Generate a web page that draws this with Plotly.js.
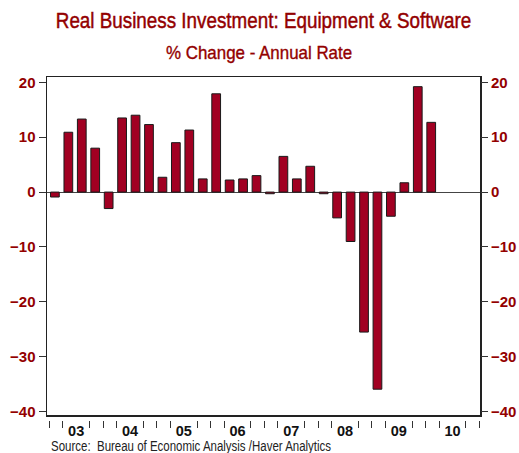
<!DOCTYPE html>
<html><head><meta charset="utf-8">
<script src="https://cdn.plot.ly/plotly-3.0.1.min.js"></script>
<style>
html,body{margin:0;padding:0;background:#fff}
#chart{width:519px;height:453px}
#chart .gtitle{transform-box:fill-box;transform-origin:center;transform:scaleX(0.856);stroke:#930000;stroke-width:0.45px}
#chart [data-index="0"] text.annotation-text{transform-box:fill-box;transform-origin:center;transform:scaleX(0.94);stroke:#930000;stroke-width:0.35px}
#chart [data-index="1"] text.annotation-text{transform-box:fill-box;transform-origin:left center;transform:scaleX(0.82)}
</style>
</head><body><div id="chart"></div>
<script>
// Data
const quarters = ['2003Q1','2003Q2','2003Q3','2003Q4','2004Q1','2004Q2','2004Q3','2004Q4',
  '2005Q1','2005Q2','2005Q3','2005Q4','2006Q1','2006Q2','2006Q3','2006Q4',
  '2007Q1','2007Q2','2007Q3','2007Q4','2008Q1','2008Q2','2008Q3','2008Q4',
  '2009Q1','2009Q2','2009Q3','2009Q4','2010Q1'];
const values = [-0.9, 10.9, 13.3, 8.0, -3.0, 13.5, 14.0, 12.3,
  2.7, 9.0, 11.3, 2.4, 17.9, 2.2, 2.4, 3.0,
  -0.3, 6.5, 2.4, 4.7, -0.3, -4.7, -9.0, -25.5,
  -35.9, -4.4, 1.7, 19.2, 12.7];
const yearLabels = ['03','04','05','06','07','08','09','10'];
const yTicks = [20, 10, 0, -10, -20, -30, -40];
const titleText = 'Real Business Investment: Equipment &amp; Software';
const subtitleText = '% Change - Annual Rate';
const sourceText = 'Source:  Bureau of Economic Analysis /Haver Analytics';

// Layout helpers
const nQ = yearLabels.length * 4;
const xr = [-0.588, 31.63];
const yr = [-40.6, 20.96];
const off = -0.417;
const boundaryTicks = [];
for (let k = 0; k <= nQ; k++) { if (k % 4 !== 2) boundaryTicks.push(k + off); }
const yearCenters = yearLabels.map((_, i) => i * 4 + 2 + off);

const red = '#930000';
const sans = '"Liberation Sans", Arial, sans-serif';
const tickFont = {family: sans, size: 15, color: red, weight: 'bold'};

const bars = {
  type: 'bar', x: quarters, y: values, width: 0.65,
  marker: {color: '#a10022', line: {color: '#1a1a1a', width: 1}},
  hoverinfo: 'x+y'
};
// placeholder traces so the auxiliary axes (right labels, quarter ticks, year labels) are drawn
const axisHolder1 = {type: 'scatter', mode: 'markers', x: [null], y: [null], xaxis: 'x2', yaxis: 'y2', hoverinfo: 'skip', showlegend: false};
const axisHolder2 = {type: 'scatter', mode: 'markers', x: [null], y: [null], xaxis: 'x3', yaxis: 'y2', hoverinfo: 'skip', showlegend: false};

const H = 453, T = 77, B = 33, plotH = H - T - B;
const layout = {
  width: 519, height: 453,
  margin: {l: 47, r: 39, t: T, b: B, pad: 0},
  paper_bgcolor: '#fff', plot_bgcolor: '#fff',
  showlegend: false, bargap: 0,
  title: {text: titleText, x: 0.5, xref: 'paper', xanchor: 'center',
    y: 1 - 20.5 / H, yref: 'container', yanchor: 'middle',
    font: {family: sans, size: 22, color: red}},
  xaxis: {type: 'category', range: xr, anchor: 'y', showline: true, mirror: true,
    linecolor: '#222', linewidth: 1.5, ticks: '', showticklabels: false,
    showgrid: false, zeroline: false, fixedrange: true},
  xaxis2: {type: 'linear', overlaying: 'x', anchor: 'free', position: 0, range: xr,
    tickmode: 'array', tickvals: boundaryTicks, ticks: 'outside', ticklen: 7, tickwidth: 1,
    tickcolor: '#333', showticklabels: false, showline: false, showgrid: false, zeroline: false},
  xaxis3: {type: 'linear', overlaying: 'x', anchor: 'free', position: 0, range: xr,
    tickmode: 'array', tickvals: yearCenters, ticktext: yearLabels, ticks: '',
    tickfont: {family: sans, size: 14.5, color: '#111', weight: 'bold'},
    showline: false, showgrid: false, zeroline: false},
  yaxis: {range: yr, domain: [5 / plotH, 1], tickmode: 'array', tickvals: yTicks,
    ticks: 'outside', ticklen: 7, tickwidth: 1, tickcolor: '#333', tickfont: tickFont,
    showline: true, mirror: true, linecolor: '#222', linewidth: 1.5,
    showgrid: false, zeroline: true, zerolinecolor: '#444', zerolinewidth: 1, fixedrange: true},
  yaxis2: {range: yr, overlaying: 'y', side: 'right', anchor: 'x', tickmode: 'array', tickvals: yTicks,
    ticks: 'outside', ticklen: 7, tickwidth: 1, tickcolor: '#333', tickfont: tickFont,
    showline: false, showgrid: false, zeroline: false},
  annotations: [
    {text: subtitleText, xref: 'paper', yref: 'paper', x: (259 - 47) / 433, y: (420 - 53.5) / plotH,
      xanchor: 'center', yanchor: 'middle', showarrow: false,
      font: {family: sans, size: 18, color: red}},
    {text: sourceText, xref: 'paper', yref: 'paper', x: 2 / 433, y: (420 - 446) / plotH,
      xanchor: 'left', yanchor: 'middle', showarrow: false,
      font: {family: sans, size: 14, color: '#222'}}
  ]
};

Plotly.newPlot('chart', [bars, axisHolder1, axisHolder2], layout, {displayModeBar: false, staticPlot: true});
</script>
</body></html>
